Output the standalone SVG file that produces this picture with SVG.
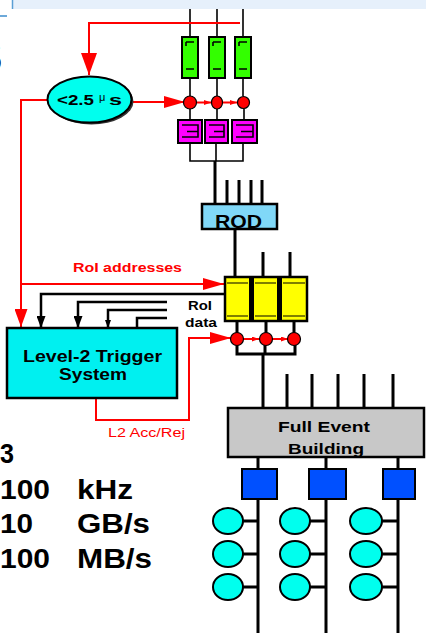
<svg xmlns="http://www.w3.org/2000/svg" width="426" height="633" viewBox="0 0 426 633">
<style>
.t{font-family:"Liberation Sans",Arial,sans-serif;font-weight:bold;fill:#000}
.r{fill:#ff0000}
.k{stroke:#000;fill:none}
.red{stroke:#ff0000;fill:none;stroke-width:2}
.thin{stroke:#000;stroke-width:1.6;fill:none}
.thick{stroke:#000;stroke-width:3;fill:none}
.grn{fill:#33ff00;stroke:#000;stroke-width:2}
.mag{fill:#ff00ff;stroke:#000;stroke-width:2}
.dot{fill:#ff0000;stroke:#000;stroke-width:1.2}
.cyn{fill:#00ffee;stroke:#000;stroke-width:2}
.blu{fill:#0050ff;stroke:#000;stroke-width:2}
</style>
<defs>
<marker id="ahBig" markerWidth="22" markerHeight="16" refX="22" refY="8" orient="auto" markerUnits="userSpaceOnUse"><path d="M0,0 L22,8 L0,16 z" fill="#ff0000"/></marker>
<marker id="ahRed" markerWidth="21" markerHeight="12" refX="21" refY="6" orient="auto" markerUnits="userSpaceOnUse"><path d="M0,0 L21,6 L0,12 z" fill="#ff0000"/></marker>
<marker id="ahDown" markerWidth="18" markerHeight="13" refX="18" refY="6.5" orient="auto" markerUnits="userSpaceOnUse"><path d="M0,0 L18,6.5 L0,13 z" fill="#ff0000"/></marker>
<marker id="ahSm" markerWidth="7" markerHeight="5" refX="7" refY="2.5" orient="auto" markerUnits="userSpaceOnUse"><path d="M0,0 L7,2.5 L0,5 z" fill="#ff0000"/></marker>
<marker id="ahK" markerWidth="12" markerHeight="9" refX="12" refY="4.5" orient="auto" markerUnits="userSpaceOnUse"><path d="M0,0 L12,4.5 L0,9 z" fill="#000"/></marker>
<marker id="ahKs" markerWidth="8" markerHeight="6" refX="8" refY="3" orient="auto" markerUnits="userSpaceOnUse"><path d="M0,0 L8,3 L0,6 z" fill="#000"/></marker>
</defs>
<rect width="426" height="633" fill="#fff"/>
<!-- banner -->
<rect x="13" y="0" width="413" height="9" fill="#e6f0fb"/>
<line x1="12.5" y1="0" x2="12.5" y2="9" stroke="#5a9fd4" stroke-width="1.5"/>
<line x1="0" y1="16" x2="7" y2="16" stroke="#3c8ccc" stroke-width="1.5"/>
<text class="t" x="-27" y="72" font-size="44">S</text>

<g id="connectors">
  <path class="thin" d="M190,9V37M217,9V37M243,9V37"/>
  <path class="thin" d="M190,78V96M217,78V96M243,78V96"/>
  <path class="thin" d="M190,109V120M217,109V120M244,109V120"/>
  <path class="thin" d="M190,143V161H243V143M216,143V161"/>
  <path class="thick" d="M215,161V204"/>
  <path class="thick" d="M227,180V204M239,180V204M251,180V204M262,180V204"/>
  <path class="thick" d="M235,229V277M263,252V277M290,252V277"/>
  <path class="thick" d="M237,321V333M266,321V333M294,321V333"/>
  <path class="thick" d="M237,345V354H265V345M295,345V354H265M263,354V408"/>
  <path class="thick" d="M287,374V408M312,374V408M338,374V408M364,374V408M393,374V408"/>
  <path class="thick" d="M258,457V469M326,457V469M398,457V469"/>
  <path class="thick" d="M258,499V633M326,499V633M398,499V633"/>
  <path class="thick" d="M243,521H258M243,554H258M243,587H258M310,521H326M310,554H326M310,587H326M382,521H398M382,554H398M382,587H398"/>
  <path class="red" d="M240,23H89V75" marker-end="url(#ahBig)"/>
  <path class="red" d="M132,102H185" marker-end="url(#ahRed)"/>
  <path class="red" stroke-width="1.5" d="M197,102.5H211" marker-end="url(#ahSm)"/>
  <path class="red" stroke-width="1.5" d="M223,102.5H237" marker-end="url(#ahSm)"/>
  <path class="red" d="M47,100H21V327" marker-end="url(#ahDown)"/>
  <path class="red" stroke-width="1.6" d="M21,284H224" marker-end="url(#ahRed)"/>
  <path class="red" stroke-width="1.5" d="M96,398V420H189V338H231" marker-end="url(#ahRed)"/>
  <path class="red" stroke-width="1.5" d="M243,339H259" marker-end="url(#ahSm)"/>
  <path class="red" stroke-width="1.5" d="M272,339H288" marker-end="url(#ahSm)"/>
  <path class="k" stroke-width="2.5" d="M225,294H41V328" marker-end="url(#ahK)"/>
  <path class="k" stroke-width="2.5" d="M167,302H78V328" marker-end="url(#ahK)"/>
  <path class="k" stroke-width="2.5" d="M167,310H108V328" marker-end="url(#ahKs)"/>
  <path class="k" stroke-width="2.5" d="M167,318H137V328"/>
</g>

<g id="green">
  <rect class="grn" x="182" y="37" width="16" height="41"/>
  <rect class="grn" x="209" y="37" width="16" height="41"/>
  <rect class="grn" x="235" y="37" width="16" height="41"/>
  <path class="thin" stroke-width="2" d="M186,42H194M186,42V46M186,69H194M213,42H221M213,42V46M213,69H221M239,42H247M239,42V46M239,69H247"/>
</g>

<g id="l1-ellipse">
  <ellipse cx="91.5" cy="101.5" rx="42" ry="23" fill="#333"/>
  <ellipse cx="89.5" cy="99.5" rx="42" ry="23" class="cyn"/>
  <text class="t" x="57" y="105" font-size="14" textLength="37" lengthAdjust="spacingAndGlyphs">&lt;2.5</text>
  <text x="99" y="101" font-family="Liberation Sans,Arial,sans-serif" font-size="11">μ</text>
  <text class="t" x="109" y="105" font-size="15" textLength="13" lengthAdjust="spacingAndGlyphs">s</text>
</g>

<g id="dots">
  <circle class="dot" cx="190" cy="102.5" r="6.5"/>
  <ellipse class="dot" cx="217" cy="102.5" rx="5.5" ry="6.5"/>
  <circle class="dot" cx="243.5" cy="102.5" r="6"/>
  <circle class="dot" cx="237" cy="339" r="6.5"/>
  <circle class="dot" cx="266" cy="339" r="6.5"/>
  <circle class="dot" cx="294" cy="339" r="6.5"/>
</g>

<g id="magenta">
  <rect class="mag" x="178" y="120" width="24" height="23"/>
  <rect class="mag" x="205" y="120" width="23" height="23"/>
  <rect class="mag" x="232" y="120" width="25" height="23"/>
  <path class="thin" stroke-width="2" d="M182,125H198V137H182M187,131.5H198M209,125H224V137H209M214,131.5H224M236,125H253V137H236M241,131.5H253"/>
</g>

<g id="rod">
  <rect x="202" y="204" width="75" height="25" fill="#80d8f8" stroke="#000" stroke-width="2.5"/>
  <text class="t" x="215" y="228" font-size="18" textLength="47" lengthAdjust="spacingAndGlyphs">ROD</text>
</g>

<g id="rob">
  <rect x="225" y="277" width="82" height="44" fill="#ffff00" stroke="#000" stroke-width="2.5"/>
  <rect x="249" y="277" width="5" height="44" fill="#000"/>
  <rect x="277" y="277" width="5" height="44" fill="#000"/>
  <path class="k" stroke-width="1.2" d="M227,283H248M255,283H276M283,283H305M227,316H248M255,316H276M283,316H305"/>
</g>

<text class="t r" x="73" y="272" font-size="12.5" textLength="109" lengthAdjust="spacingAndGlyphs">RoI addresses</text>
<text class="t" x="188" y="310" font-size="12" textLength="24" lengthAdjust="spacingAndGlyphs">RoI</text>
<text class="t" x="185" y="327" font-size="12" textLength="32" lengthAdjust="spacingAndGlyphs">data</text>

<g id="level2">
  <rect x="7" y="328" width="170" height="70" fill="#00f0f0" stroke="#000" stroke-width="2.5"/>
  <text class="t" x="23" y="362" font-size="16" textLength="139" lengthAdjust="spacingAndGlyphs">Level-2 Trigger</text>
  <text class="t" x="59" y="380" font-size="16" textLength="68" lengthAdjust="spacingAndGlyphs">System</text>
</g>
<text x="108" y="437" font-family="Liberation Sans,Arial,sans-serif" font-size="12.5" fill="#ff0000" textLength="77" lengthAdjust="spacingAndGlyphs">L2 Acc/Rej</text>

<g id="feb">
  <rect x="228" y="408" width="196" height="49" fill="#c8c8c8" stroke="#000" stroke-width="2.5"/>
  <text class="t" x="278" y="432" font-size="15.5" fill="#222" textLength="92" lengthAdjust="spacingAndGlyphs">Full Event</text>
  <text class="t" x="288" y="454" font-size="15.5" fill="#222" textLength="76" lengthAdjust="spacingAndGlyphs">Building</text>
</g>

<g id="sfi">
  <rect class="blu" x="242" y="469" width="35" height="30"/>
  <rect class="blu" x="309" y="469" width="37" height="30"/>
  <rect class="blu" x="383" y="469" width="32" height="30"/>
</g>

<g id="efnodes">
  <ellipse class="cyn" cx="228" cy="521" rx="15" ry="13"/>
  <ellipse class="cyn" cx="228" cy="554" rx="15" ry="13"/>
  <ellipse class="cyn" cx="228" cy="587" rx="15" ry="13"/>
  <ellipse class="cyn" cx="295" cy="521" rx="15" ry="13"/>
  <ellipse class="cyn" cx="295" cy="554" rx="15" ry="13"/>
  <ellipse class="cyn" cx="295" cy="587" rx="15" ry="13"/>
  <ellipse class="cyn" cx="366" cy="521" rx="16" ry="13"/>
  <ellipse class="cyn" cx="366" cy="554" rx="16" ry="13"/>
  <ellipse class="cyn" cx="366" cy="587" rx="16" ry="13"/>
</g>

<g id="rates" class="t" font-size="28">
  <text x="0" y="463" textLength="14" lengthAdjust="spacingAndGlyphs">3</text>
  <text x="0" y="499" textLength="50" lengthAdjust="spacingAndGlyphs">100</text>
  <text x="77" y="499" textLength="56" lengthAdjust="spacingAndGlyphs">kHz</text>
  <text x="0" y="533" textLength="33" lengthAdjust="spacingAndGlyphs">10</text>
  <text x="77" y="533" textLength="73" lengthAdjust="spacingAndGlyphs">GB/s</text>
  <text x="0" y="568" textLength="50" lengthAdjust="spacingAndGlyphs">100</text>
  <text x="77" y="568" textLength="75" lengthAdjust="spacingAndGlyphs">MB/s</text>
</g>
</svg>
